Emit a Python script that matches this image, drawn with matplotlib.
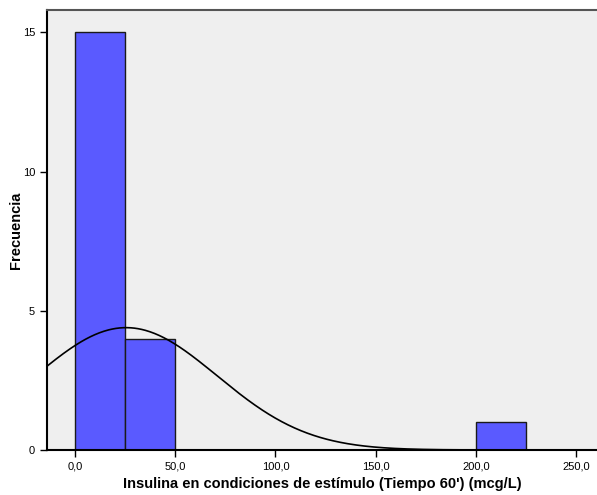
import numpy as np
import matplotlib
matplotlib.use("Agg")
import matplotlib.pyplot as plt

plt.rcParams['font.family'] = ['Liberation Sans', 'DejaVu Sans']

# Histogram bins (mcg/L) and counts
bin_edges = [0, 25, 50, 75, 100, 125, 150, 175, 200, 225]
counts = [15, 4, 0, 0, 0, 0, 0, 0, 1]
# Normal curve parameters
mean_val = 25.5
std_val = 45.4
n_total = 20

x_ticks = [0, 50, 100, 150, 200, 250]
x_tick_labels = ["0,0", "50,0", "100,0", "150,0", "200,0", "250,0"]
y_ticks = [0, 5, 10, 15]

fig = plt.figure(figsize=(5.97, 4.95), dpi=100)
ax = fig.add_axes([47/597, 45/495, 550/597, 440/495])
ax.set_facecolor('#efefef')

lefts = np.array(bin_edges[:-1])
widths = np.diff(bin_edges)
for l, w, c in zip(lefts, widths, counts):
    if c > 0:
        ax.bar(l, c, width=w, align='edge', color='#5a5aff',
               edgecolor='#1a1a1a', linewidth=1.0, zorder=2)

xs = np.linspace(-14, 261, 600)
bw = widths[0]
ys = n_total * bw / (std_val * np.sqrt(2 * np.pi)) * np.exp(-(xs - mean_val) ** 2 / (2 * std_val ** 2))
ax.plot(xs, ys, color='black', linewidth=1.2, zorder=3)

ax.set_xlim(-14, 260.5)
ax.set_ylim(0, 15.8)
ax.set_xticks(x_ticks)
ax.set_xticklabels(x_tick_labels)
ax.set_yticks(y_ticks)
ax.tick_params(axis='both', labelsize=8, length=5, width=1, direction='out', colors='black')
for s in ['left', 'bottom']:
    ax.spines[s].set_linewidth(1.5)
ax.spines['top'].set_linewidth(1.5)
ax.spines['top'].set_color('#555555')
ax.spines['right'].set_visible(False)

ax.set_xlabel("Insulina en condiciones de estímulo (Tiempo 60') (mcg/L)",
              fontsize=10.5, fontweight='bold', labelpad=4)
ax.set_ylabel("Frecuencia", fontsize=10.5, fontweight='bold')
ax.yaxis.set_label_coords(-24/550, 0.5)

fig.savefig("out.png", dpi=100)
